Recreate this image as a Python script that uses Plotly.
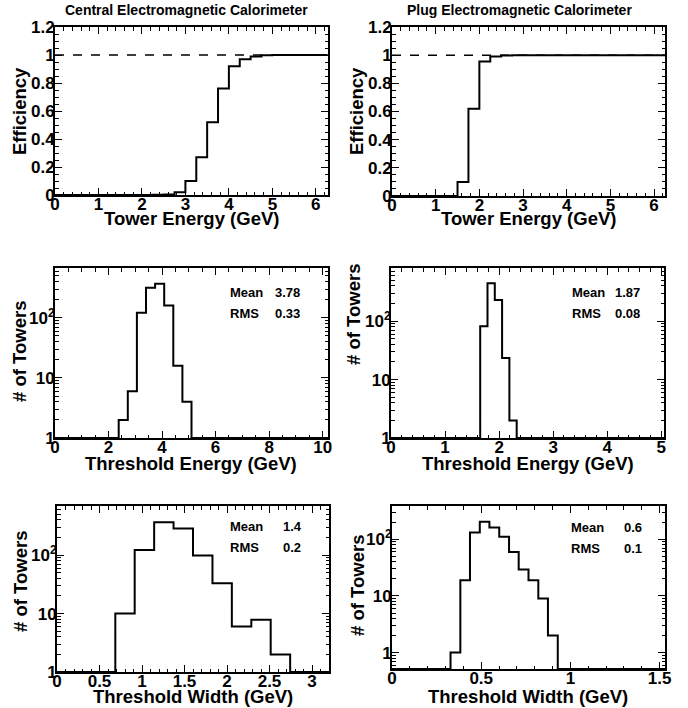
import plotly.graph_objects as go

W, H = 688, 708
FONT = "Liberation Sans, Arial, Helvetica, sans-serif"

# efficiency curves: 0.25 GeV bins from 0 to 6.25
eff_edges = [i * 0.25 for i in range(26)]
eff_central = [0, 0, 0, 0, 0, 0, 0, 0, 0, 0.001, 0.004, 0.02, 0.10, 0.27, 0.52,
               0.76, 0.92, 0.97, 0.99, 0.998, 1, 1, 1, 1, 1]
eff_plug = [0, 0, 0, 0, 0, 0, 0.10, 0.62, 0.955, 0.99, 0.998, 1, 1, 1, 1,
            1, 1, 1, 1, 1, 1, 1, 1, 1, 1]

# threshold energy histograms
thr_c_edges = [2.38, 2.72, 3.06, 3.40, 3.74, 4.08, 4.42, 4.76, 5.10]
thr_c_counts = [2, 6, 122, 316, 370, 160, 16, 4]
thr_p_edges = [1.65, 1.785, 1.92, 2.055, 2.19, 2.325]
thr_p_counts = [82, 445, 230, 23.5, 2]

# threshold width histograms
wid_c_edges = [0.686, 0.914, 1.143, 1.371, 1.600, 1.829, 2.057, 2.286, 2.514, 2.743]
wid_c_counts = [10, 122, 365, 285, 98, 33, 6, 7.8, 2]
wid_p_edges = [0.328, 0.383, 0.437, 0.492, 0.546, 0.601, 0.656, 0.710, 0.765,
               0.820, 0.874, 0.929]
wid_p_counts = [1, 19, 133, 204, 163, 111, 60, 29.5, 19, 9, 2]

stats = [("3.78", "0.33"), ("1.87", "0.08"), ("1.4", "0.2"), ("0.6", "0.1")]

# plot boxes in pixels: (x0, x1, y0, y1) measured from top-left
boxes = [(55, 328, 27, 195), (392, 665, 27, 196),
         (55, 328, 268, 438), (391, 664, 268, 438),
         (57, 329, 506, 672), (392, 665, 506, 669)]


def dom(b):
    return [b[0] / W, b[1] / W], [1 - b[3] / H, 1 - b[2] / H]


def hist_path(edges, counts, xmin, xmax, ymin):
    x = [xmin] + list(edges) + [xmax]
    y = [ymin] + list(counts) + [ymin, ymin]
    return x, y


fig = go.Figure()
line = dict(color="black", width=2, shape="hv")

# efficiency panels
for i, vals in enumerate([eff_central, eff_plug]):
    n = "" if i == 0 else str(i + 1)
    fig.add_trace(go.Scatter(x=eff_edges, y=vals + [vals[-1]], mode="lines",
                             line=line, xaxis="x" + n, yaxis="y" + n, showlegend=False))

xr = [[0, 10.2], [0, 5.05], [0, 3.2], [0, 1.53]]
yr = [[0, 2.83], [0, 2.91], [0, 2.84], [-0.29, 2.59]]
hists = [(thr_c_edges, thr_c_counts), (thr_p_edges, thr_p_counts),
         (wid_c_edges, wid_c_counts), (wid_p_edges, wid_p_counts)]
for k, (e, c) in enumerate(hists):
    n = str(k + 3)
    hx, hy = hist_path(e, c, xr[k][0], xr[k][1], 10 ** yr[k][0])
    fig.add_trace(go.Scatter(x=hx, y=hy, mode="lines", line=line,
                             xaxis="x" + n, yaxis="y" + n, showlegend=False))

tickfont = dict(family=FONT, size=17, color="black")
common = dict(showline=True, linewidth=2, linecolor="black", mirror="allticks",
              ticks="inside", ticklen=7, tickwidth=1.2, tickcolor="black",
              showgrid=False, zeroline=False, tickfont=tickfont, automargin=False)

minor_lin = lambda d: dict(ticks="inside", ticklen=3.5, tickwidth=1, tickcolor="black", dtick=d)
log_minor = [m * 10 ** p for p in (-1, 0, 1, 2) for m in range(2, 10)]
minor_log = dict(ticks="inside", ticklen=3.5, tickwidth=1, tickcolor="black", tickvals=log_minor)

x_dticks = [1, 1, 2, 1, 0.5, 0.5]
x_minor = [0.2, 0.2, 0.5, 0.2, 0.1, 0.1]
x_ranges = [[0, 6.28], [0, 6.25]] + xr


def bold_vals(vals):
    return ["<b>%s</b>" % ("%g" % v) for v in vals]


layout = {}
for i, b in enumerate(boxes):
    n = "" if i == 0 else str(i + 1)
    dx, dy = dom(b)
    r = x_ranges[i]
    xt = []
    v = 0.0
    while v <= r[1] + 1e-9:
        xt.append(round(v, 3))
        v += x_dticks[i]
    ax = dict(common, domain=dx, anchor="y" + n, range=r, ticklabelstandoff=-7,
              tickvals=xt, ticktext=bold_vals(xt), minor=minor_lin(x_minor[i]))
    if i < 2:
        yt = [0, 0.2, 0.4, 0.6, 0.8, 1, 1.2]
        ay = dict(common, domain=dy, anchor="x" + n, range=[0, 1.2], ticklabelstandoff=-5,
                  tickvals=yt, ticktext=bold_vals(yt), minor=minor_lin(0.05))
    else:
        ay = dict(common, domain=dy, anchor="x" + n, type="log", range=yr[i - 2],
                  ticklabelstandoff=-5, tickvals=[1, 10, 100],
                  ticktext=["<b>1</b>", "<b>10</b>", "<b>10<sup>2</sup></b>"],
                  minor=minor_log)
    layout["xaxis" + n] = ax
    layout["yaxis" + n] = ay

fig.update_layout(**layout)

# dashed line at efficiency = 1
for n in ["", "2"]:
    fig.add_shape(type="line", xref="x" + n + " domain", yref="y" + n,
                  x0=0, x1=1, y0=1, y1=1,
                  line=dict(color="black", width=1.5, dash="dash"))

ann = []


def text(x, y, s, size, angle=0, anchor="center"):
    ann.append(dict(x=x / W, y=1 - y / H, xref="paper", yref="paper", text="<b>%s</b>" % s,
                    showarrow=False, textangle=angle, xanchor=anchor, yanchor="middle",
                    font=dict(family=FONT, size=size, color="black")))


text(186, 10, "Central Electromagnetic Calorimeter", 14)
text(519, 10, "Plug Electromagnetic Calorimeter", 14)

for cx, cy in [(19, 111), (356, 111)]:
    text(cx, cy, "Efficiency", 18.5, -90)
for cx, cy in [(19, 352), (354, 315), (20, 582), (357, 586)]:
    text(cx, cy, "# of Towers", 18.5, -90)

text(191, 218, "Tower Energy (GeV)", 18.5)
text(528, 218, "Tower Energy (GeV)", 18.5)
text(191, 463, "Threshold Energy (GeV)", 18.5)
text(528, 463, "Threshold Energy (GeV)", 18.5)
text(193, 696, "Threshold Width (GeV)", 18.5)
text(528, 696, "Threshold Width (GeV)", 18.5)

# stat boxes
stat_pos = [(228, 273, 292, 313), (570, 613, 292, 313),
            (228, 281, 526, 547), (569, 622, 527, 548)]
for (mean, rms), (lx, vx, y1, y2) in zip(stats, stat_pos):
    text(lx, y1, "Mean", 13, anchor="left")
    text(vx, y1, mean, 13, anchor="left")
    text(lx, y2, "RMS", 13, anchor="left")
    text(vx, y2, rms, 13, anchor="left")

fig.update_layout(annotations=ann, width=W, height=H,
                  margin=dict(l=0, r=0, t=0, b=0, autoexpand=False),
                  paper_bgcolor="white", plot_bgcolor="white",
                  font=dict(family=FONT, color="black"))

# page body has a default 8px margin; drop it so the figure sits at the corner
fig.write_html("out.html", config={"displayModeBar": False},
               post_script="document.body.style.margin='0';")
